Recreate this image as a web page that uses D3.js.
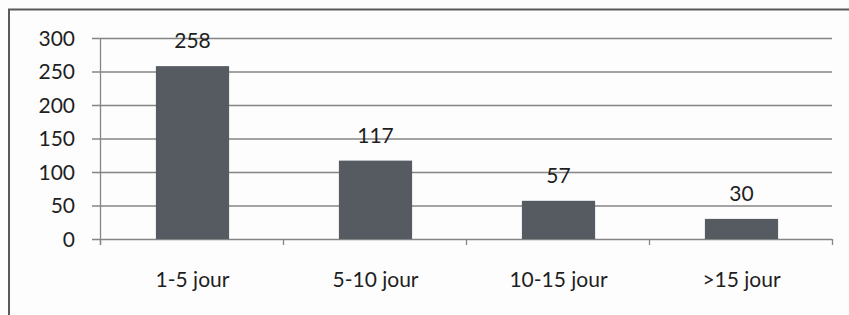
<!DOCTYPE html>
<html>
<head>
<meta charset="utf-8">
<script src="https://cdn.jsdelivr.net/npm/d3@7.9.0/dist/d3.min.js"></script>
<style>
  body { margin: 0; background: #fdfdfd; }
  text { font-family: Lato, "Open Sans", sans-serif; fill: #1f1f1f; }
</style>
</head>
<body>
<svg id="chart"></svg>
<script>
const categories = ['1-5 jour', '5-10 jour', '10-15 jour', '>15 jour'];
const values = [258, 117, 57, 30];
const yTicks = [0, 50, 100, 150, 200, 250, 300];

const width = 849;
const height = 315;
const margin = { top: 38, right: 17, bottom: 76, left: 100 };

const svg = d3.select('#chart')
    .attr('width', width)
    .attr('height', height);

// outer frame (cropped on right and bottom like the scan)
svg.append('path')
    .attr('d', `M9,${height} V9.5 H${width}`)
    .attr('fill', 'none')
    .attr('stroke', '#5a5a5a')
    .attr('stroke-width', 2);

const xScale = d3.scaleBand()
    .domain(categories)
    .range([margin.left, width - margin.right])
    .paddingInner(0)
    .paddingOuter(0);

const yScale = d3.scaleLinear()
    .domain([0, 300])
    .range([height - margin.bottom, margin.top]);

// gridlines
svg.append('g')
    .selectAll('line')
    .data(yTicks)
    .join('line')
    .attr('x1', margin.left - 8)
    .attr('x2', width - margin.right)
    .attr('y1', d => yScale(d) + 0.5)
    .attr('y2', d => yScale(d) + 0.5)
    .attr('stroke', '#858585')
    .attr('stroke-width', 1.3);

// y labels
svg.append('g')
    .selectAll('text')
    .data(yTicks)
    .join('text')
    .attr('x', margin.left - 25)
    .attr('y', d => yScale(d))
    .attr('dy', '0.36em')
    .attr('text-anchor', 'end')
    .attr('font-size', 21)
    .text(d => d);

// y axis line
svg.append('line')
    .attr('x1', margin.left + 0.5)
    .attr('x2', margin.left + 0.5)
    .attr('y1', yScale(300))
    .attr('y2', yScale(0) + 6)
    .attr('stroke', '#858585')
    .attr('stroke-width', 1.3);

// x tick marks
const xEdges = categories.map(c => xScale(c)).concat([width - margin.right]);
svg.append('g')
    .selectAll('line')
    .data(xEdges)
    .join('line')
    .attr('x1', d => d + 0.5)
    .attr('x2', d => d + 0.5)
    .attr('y1', yScale(0))
    .attr('y2', yScale(0) + 6)
    .attr('stroke', '#858585')
    .attr('stroke-width', 1.3);

const barW = xScale.bandwidth() * 0.4;

// bars
svg.append('g')
    .selectAll('rect')
    .data(values)
    .join('rect')
    .attr('x', (d, i) => xScale(categories[i]) + xScale.bandwidth() / 2 - barW / 2 + 1)
    .attr('y', d => yScale(d))
    .attr('width', barW)
    .attr('height', d => yScale(0) - yScale(d))
    .attr('fill', '#565b62');

// value labels
svg.append('g')
    .selectAll('text')
    .data(values)
    .join('text')
    .attr('x', (d, i) => xScale(categories[i]) + xScale.bandwidth() / 2 + 1)
    .attr('y', d => yScale(d) - 18)
    .attr('text-anchor', 'middle')
    .attr('font-size', 21)
    .text(d => d);

// category labels
svg.append('g')
    .selectAll('text')
    .data(categories)
    .join('text')
    .attr('x', d => xScale(d) + xScale.bandwidth() / 2 + 1)
    .attr('y', yScale(0) + 48)
    .attr('text-anchor', 'middle')
    .attr('font-size', 21)
    .text(d => d);
</script>
</body>
</html>
